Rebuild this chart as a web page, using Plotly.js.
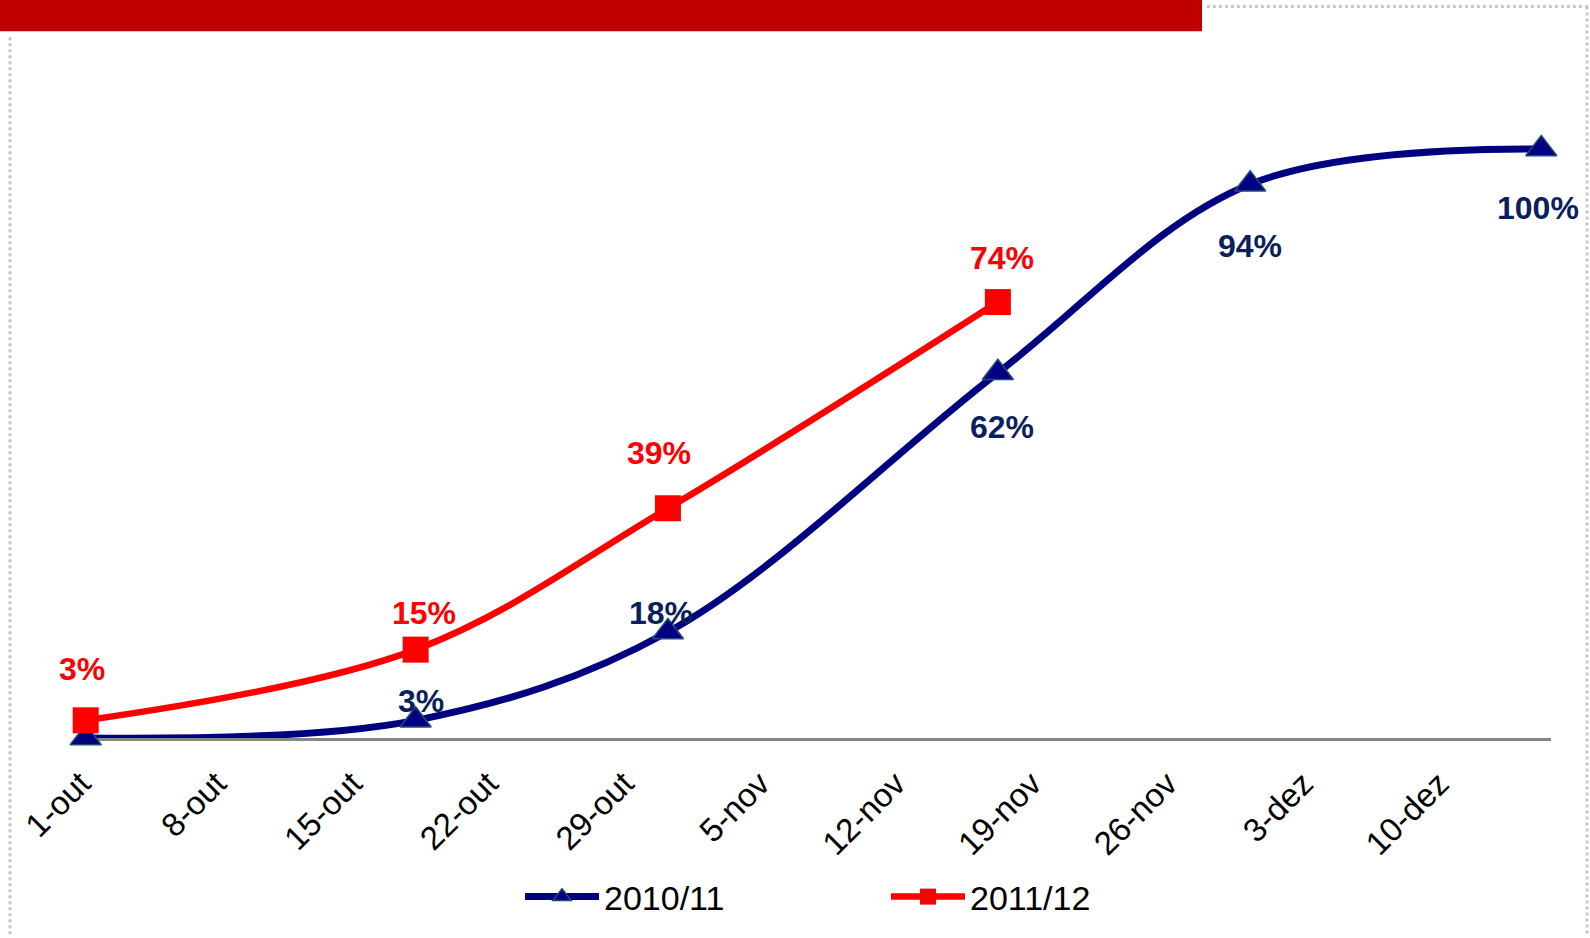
<!DOCTYPE html>
<html>
<head>
<meta charset="utf-8">
<script src="https://cdn.plot.ly/plotly-3.0.1.min.js"></script>
<style>
  html, body { margin: 0; padding: 0; background: #ffffff; }
  #chart { width: 1590px; height: 938px; }
</style>
</head>
<body>
<div id="chart"></div>
<script>
// ---- data (dates placed on a common day-month axis) ----
var seriesNames = ['2010/11', '2011/12'];
var dates2010 = ['2011-10-01', '2011-10-18', '2011-10-31', '2011-11-17', '2011-11-30', '2011-12-15'];
var values2010 = [0, 3, 18, 62, 94, 100];
var dates2011 = ['2011-10-01', '2011-10-18', '2011-10-31', '2011-11-17'];
var values2011 = [3, 15, 39, 74];
var tickDates = ['2011-10-01', '2011-10-08', '2011-10-15', '2011-10-22', '2011-10-29', '2011-11-05',
                 '2011-11-12', '2011-11-19', '2011-11-26', '2011-12-03', '2011-12-10'];
var tickLabels = ['1-out', '8-out', '15-out', '22-out', '29-out', '5-nov',
                  '12-nov', '19-nov', '26-nov', '3-dez', '10-dez'];

// ---- styling / label placement (not data) ----
var navy = '#000080', navyText = '#0B1F5E', red = '#FF0000';
var show2010 = [false, true, true, true, true, true];
var yshift2010 = [0, 19, 19, -54, -62, -59];
var xshift2010 = [0, 5, -7, 4, 0, -3];
var yshift2011 = [51, 37, 55, 44];
var xshift2011 = [-4, 8, -9, 4];

var W = 1590, H = 938, mL = 76, mR = 39, mT = 90, mB = 196;
var pw = W - mL - mR, ph = H - mT - mB;
function px(x) { return (x - mL) / pw; }
function py(y) { return (H - mB - y) / ph; }

var traces = [
  {
    x: dates2010, y: values2010, name: seriesNames[0], type: 'scatter', mode: 'lines+markers',
    line: { color: navy, width: 7, shape: 'spline', smoothing: 1 },
    marker: { symbol: 'triangle-up', size: 27, color: navy, line: { color: '#1F4E79', width: 1.5 } },
    cliponaxis: false, hoverinfo: 'x+y'
  },
  {
    x: dates2011, y: values2011, name: seriesNames[1], type: 'scatter', mode: 'lines+markers',
    line: { color: red, width: 6.5, shape: 'spline', smoothing: 1 },
    marker: { symbol: 'square', size: 26, color: red, line: { color: red, width: 0 } },
    cliponaxis: false, hoverinfo: 'x+y'
  }
];

var annotations = [];
dates2010.forEach(function (d, i) {
  if (!show2010[i]) return;
  annotations.push({
    x: d, y: values2010[i], xref: 'x', yref: 'y', text: values2010[i] + '%', showarrow: false,
    xshift: xshift2010[i], yshift: yshift2010[i],
    font: { family: 'Liberation Sans, Arial, sans-serif', size: 32, color: navyText, weight: 'bold' }
  });
});
dates2011.forEach(function (d, i) {
  annotations.push({
    x: d, y: values2011[i], xref: 'x', yref: 'y', text: values2011[i] + '%', showarrow: false,
    xshift: xshift2011[i], yshift: yshift2011[i],
    font: { family: 'Liberation Sans, Arial, sans-serif', size: 32, color: red, weight: 'bold' }
  });
});

var shapes = [
  { type: 'rect', xref: 'paper', yref: 'paper', x0: px(0), x1: px(1202), y0: py(31), y1: py(-2),
    fillcolor: '#C00000', line: { width: 0 }, layer: 'above' },
  { type: 'line', xref: 'paper', yref: 'paper', x0: px(10), x1: px(10), y0: py(37), y1: py(940),
    line: { color: '#C8C8C8', width: 3, dash: 'dot' } },
  { type: 'line', xref: 'paper', yref: 'paper', x0: px(1207), x1: px(1592), y0: py(6), y1: py(6),
    line: { color: '#C8C8C8', width: 3, dash: 'dot' } },
  { type: 'line', xref: 'paper', yref: 'paper', x0: px(1587), x1: px(1587), y0: py(6), y1: py(940),
    line: { color: '#C8C8C8', width: 3, dash: 'dot' } }
];

var layout = {
  width: W, height: H,
  margin: { l: mL, r: mR, t: mT, b: mB },
  paper_bgcolor: '#ffffff', plot_bgcolor: '#ffffff',
  showlegend: true,
  legend: {
    orientation: 'h', x: px(520), xanchor: 'left', y: py(902), yanchor: 'middle',
    font: { family: 'Liberation Sans, Arial, sans-serif', size: 34, color: '#000000' },
    itemwidth: 74, entrywidth: 277, bgcolor: 'rgba(0,0,0,0)'
  },
  xaxis: {
    type: 'date', range: ['2011-09-30 12:00', '2011-12-15 12:00'],
    tickmode: 'array', tickvals: tickDates, ticktext: tickLabels, tickangle: -45,
    tickfont: { family: 'Liberation Sans, Arial, sans-serif', size: 33, color: '#000000' },
    ticklabelstandoff: 10, ticklabelshift: -5,
    showline: true, linecolor: '#868686', linewidth: 3, ticks: '', showgrid: false, zeroline: false,
    layer: 'below traces', fixedrange: true
  },
  yaxis: {
    range: [0, 110], showline: false, showgrid: false, zeroline: false, showticklabels: false,
    ticks: '', fixedrange: true
  },
  annotations: annotations,
  shapes: shapes
};

Plotly.newPlot('chart', traces, layout, { displayModeBar: false, staticPlot: true });
</script>
</body>
</html>
